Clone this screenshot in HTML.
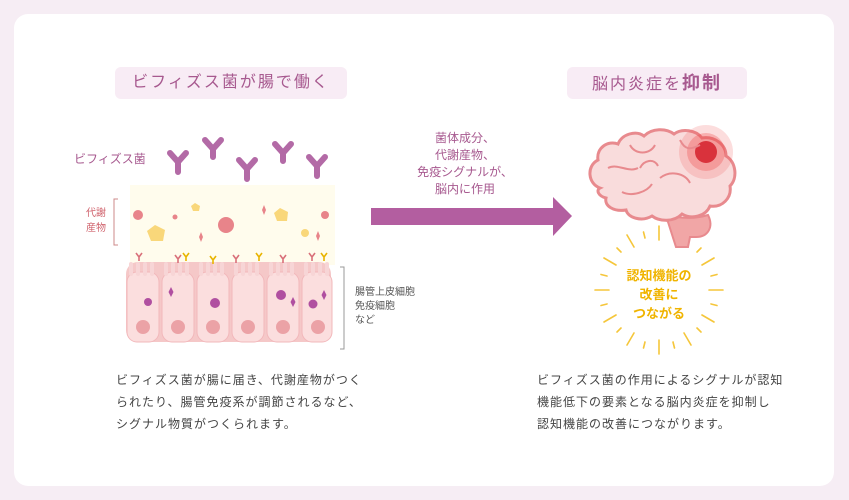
<!DOCTYPE html><html><head><meta charset="utf-8"><style>
body{margin:0;width:849px;height:500px;background:#f6edf4;font-family:"Liberation Sans","Noto Sans CJK JP",sans-serif;overflow:hidden;position:relative}
.card{position:absolute;left:14px;top:14px;width:820px;height:472px;background:#fff;border-radius:14px}
.t{position:absolute;white-space:nowrap}
.badge{position:absolute;background:#f8ecf5;border-radius:6px;color:#a7598f;font-size:16px;letter-spacing:2px;text-align:center;line-height:32px;height:32px;top:67px}
.body{font-size:12px;color:#444;line-height:22px;letter-spacing:1px}
</style></head><body><div class="card"></div>
<div class="badge" style="left:115px;width:232px">ビフィズス菌が腸で働く</div>
<div class="badge" style="left:567px;width:180px">脳内炎症を<b style="font-size:18px">抑制</b></div>
<svg width="849" height="500" style="position:absolute;left:0;top:0">
<rect x="130" y="185" width="205" height="80" fill="#fffbe6" opacity=".7"/>
<g stroke="#b36aa6" stroke-width="6" stroke-linecap="round" fill="none">
<path d="M170 153l8 9 8-9M178 162v10"/><path d="M205 140l8 9 8-9M213 149v8"/><path d="M239 160l8 9 8-9M247 169v10"/><path d="M275 144l8 9 8-9M283 153v8"/><path d="M309 157l8 9 8-9M317 166v10"/></g>
<g fill="#e8848a"><circle cx="138" cy="215" r="5"/><circle cx="175" cy="217" r="2.5"/><circle cx="226" cy="225" r="8"/><circle cx="325" cy="215" r="4"/><path d="M201 232l2 5-2 5-2-5zM264 205l2 5-2 5-2-5zM318 231l2 5-2 5-2-5z"/></g>
<g fill="#f9d77a"><path d="M155 225l10 5-2 11h-12l-4-10z"/><path d="M195 203l5 3-1 5h-6l-2-5z"/><path d="M280 208l8 4-1 9h-10l-3-8z"/><circle cx="305" cy="233" r="4"/></g>
<g>
<rect x="126" y="262" width="205" height="80" rx="12" fill="#f5c8c8"/>
<g fill="#fbdede" stroke="#f2b8bb" stroke-width="1">
<rect x="127" y="272" width="32" height="70" rx="10"/><rect x="162" y="272" width="32" height="70" rx="10"/><rect x="197" y="272" width="32" height="70" rx="10"/><rect x="232" y="272" width="32" height="70" rx="10"/><rect x="267" y="272" width="32" height="70" rx="10"/><rect x="302" y="272" width="30" height="70" rx="10"/></g>
<g stroke="#f7d5d6" stroke-width="4" stroke-linecap="round">
<path d="M131 264v10M138 264v10M145 264v10M152 264v10M166 264v10M173 264v10M180 264v10M187 264v10M201 264v10M208 264v10M215 264v10M222 264v10M236 264v10M243 264v10M250 264v10M257 264v10M271 264v10M278 264v10M285 264v10M292 264v10M306 264v10M313 264v10M320 264v10M327 264v10"/></g>
<g fill="#eba2a6"><circle cx="143" cy="327" r="7"/><circle cx="178" cy="327" r="7"/><circle cx="213" cy="327" r="7"/><circle cx="248" cy="327" r="7"/><circle cx="283" cy="327" r="7"/><circle cx="318" cy="327" r="7"/></g>
<g fill="#b04fa0"><circle cx="148" cy="302" r="4"/><circle cx="215" cy="303" r="5"/><circle cx="281" cy="295" r="5"/><circle cx="313" cy="304" r="4.5"/><path d="M171 287l2.5 5-2.5 5-2.5-5zM293 297l2.5 5-2.5 5-2.5-5zM324 290l2.5 5-2.5 5-2.5-5z"/></g>
<g stroke-width="1.6" fill="none"><g stroke="#d9707a"><path d="M136 253l3 4 3-4M139 257v4M175 255l3 4 3-4M178 259v4M233 255l3 4 3-4M236 259v4M280 255l3 4 3-4M283 259v4M309 253l3 4 3-4M312 257v4"/></g><g stroke="#e8b400"><path d="M183 253l3 4 3-4M186 257v4M210 256l3 4 3-4M213 260v4M256 253l3 4 3-4M259 257v4M321 253l3 4 3-4M324 257v4"/></g></g>
</g>
<path d="M118 199h-4v46h4" stroke="#c88" fill="none"/>
<path d="M340 267h4v82h-4" stroke="#999" fill="none"/>
<path d="M371 208h182v-11l19 19-19 20v-11h-182z" fill="#b35ea0"/>
<g stroke="#f5c63a" stroke-width="1.6" stroke-linecap="round">
<line x1="709" y1="290" x2="723" y2="290"/><line x1="711" y1="304" x2="717" y2="305.5"/><line x1="702" y1="315" x2="714" y2="322"/><line x1="697" y1="328" x2="701" y2="332"/><line x1="684" y1="333" x2="691" y2="345"/><line x1="673" y1="342" x2="674.5" y2="348"/><line x1="659" y1="340" x2="659" y2="354"/><line x1="645" y1="342" x2="643.5" y2="348"/><line x1="634" y1="333" x2="627" y2="345"/><line x1="621" y1="328" x2="617" y2="332"/><line x1="616" y1="315" x2="604" y2="322"/><line x1="607" y1="304" x2="601" y2="305.5"/><line x1="609" y1="290" x2="595" y2="290"/><line x1="607" y1="276" x2="601" y2="274.5"/><line x1="616" y1="265" x2="604" y2="258"/><line x1="621" y1="252" x2="617" y2="248"/><line x1="634" y1="247" x2="627" y2="235"/><line x1="645" y1="238" x2="643.5" y2="232"/><line x1="659" y1="240" x2="659" y2="226"/><line x1="673" y1="238" x2="674.5" y2="232"/><line x1="684" y1="247" x2="691" y2="235"/><line x1="697" y1="252" x2="701" y2="248"/><line x1="702" y1="265" x2="714" y2="258"/><line x1="711" y1="276" x2="717" y2="274.5"/>
</g>
<path d="M660 212c12 6 32 8 48 3 6 12 0 22-12 22h-6l-2 10h-12l-8-25z" fill="#f1a6a6" stroke="#e88a8e" stroke-width="2"/>
<path d="M600 188c-12-4-14-22-2-28-2-12 10-20 20-16 4-10 18-14 26-8 8-8 22-8 30-2 8-6 22-4 28 4 12-2 24 6 24 18 10 6 12 22 4 30 2 12-8 22-20 20-4 10-18 14-28 8-8 8-22 8-30 2-10 6-24 2-26-6-12 2-22-4-20-12-8-2-10-8-6-10z" fill="#f9dcdc" stroke="#e88a8e" stroke-width="3"/>
<circle cx="706" cy="152" r="27" fill="#e55" opacity=".2"/><circle cx="706" cy="152" r="19" fill="#e44" opacity=".3"/><circle cx="706" cy="152" r="11" fill="#d3202b" opacity=".85"/>
<g stroke="#e88a8e" stroke-width="2" fill="none"><path d="M608 168c10-5 20 5 30 0M630 145c5 10 20 10 25 0M660 178c10-8 25-5 30 5M622 192c10 5 25 0 30-8M680 140c5 10 10 10 20 5M640 168c4-8 14-10 18-2"/></g>
</svg>
<div class="t" style="left:74px;top:150px;font-size:12px;color:#a7598f">ビフィズス菌</div>
<div class="t" style="left:86px;top:206px;font-size:10px;line-height:15px;color:#d0636d">代謝<br>産物</div>
<div class="t" style="left:355px;top:286px;font-size:10px;line-height:14px;color:#555">腸管上皮細胞<br>免疫細胞<br>など</div>
<div class="t" style="left:410px;top:130px;width:110px;text-align:center;font-size:12px;line-height:17px;color:#a7598f">菌体成分、<br>代謝産物、<br>免疫シグナルが、<br>脳内に作用</div>
<div class="t" style="left:609px;top:266px;width:100px;text-align:center;font-size:13px;font-weight:bold;line-height:19px;color:#f0b400">認知機能の<br>改善に<br>つながる</div>
<div class="t body" style="left:116px;top:369px">ビフィズス菌が腸に届き、代謝産物がつく<br>られたり、腸管免疫系が調節されるなど、<br>シグナル物質がつくられます。</div>
<div class="t body" style="left:537px;top:369px">ビフィズス菌の作用によるシグナルが認知<br>機能低下の要素となる脳内炎症を抑制し<br>認知機能の改善につながります。</div>
</body></html>
